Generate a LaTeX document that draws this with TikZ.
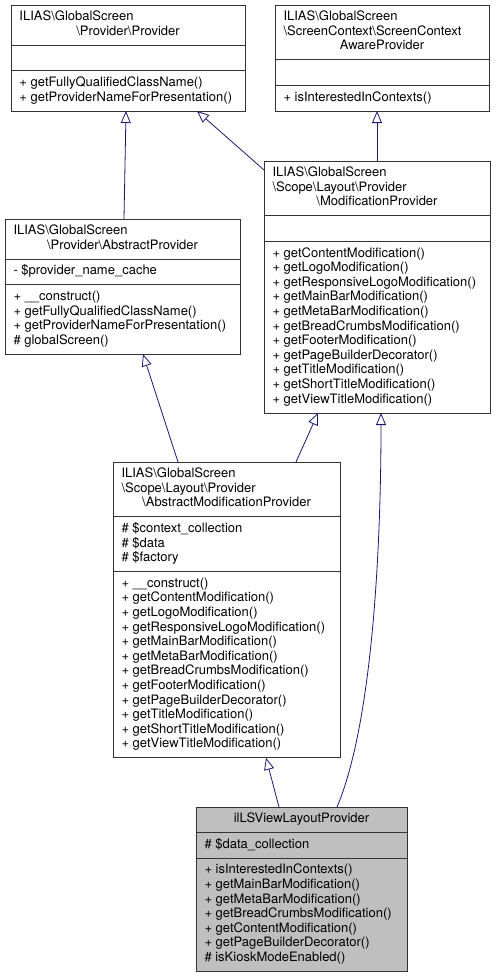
\documentclass[tikz,border=0pt]{standalone}
\usepackage{fontspec}
\setmainfont{TeX Gyre Heros}
\usetikzlibrary{positioning,arrows.meta}
\definecolor{edgeblue}{HTML}{191970}
\definecolor{boxgray}{HTML}{BFBFBF}
\newcommand{\bsl}{\textbackslash}

\begin{document}
\begin{tikzpicture}[x=1pt,y=-1pt,
  every node/.style={draw=black!80, line width=0.9pt, outer sep=0pt, inner xsep=8.5pt, inner ysep=5.5pt,
    font={\fontsize{13}{14.6}\selectfont\hyphenpenalty=10000\relax}, execute at begin node=\strut, execute at end node=\strut,
    align=flush left, fill=white},
  hd/.style={align=flush center},
  cur/.style={fill=boxgray},
  inh/.style={draw=edgeblue, line width=0.8pt, -{Triangle[open,length=12pt,width=10pt]}}]
\useasboundingbox (0,0) rectangle (496,977);

% Provider
\node[hd, text width=217pt, anchor=north west] (provT) at (11,5) {ILIAS\bsl GlobalScreen\hfill\null\\\bsl Provider\bsl Provider};
\node[text width=217pt, below=0pt of provT] (provA) {};
\node[text width=217pt, below=0pt of provA] (provM) {+ getFullyQualifiedClassName()\\+ getProviderNameForPresentation()};

% ScreenContextAwareProvider
\node[hd, text width=197pt, anchor=north west] (scapT) at (275,5) {ILIAS\bsl GlobalScreen\hfill\null\\\bsl ScreenContext\bsl ScreenContext\hfill\null\\AwareProvider};
\node[text width=197pt, below=0pt of scapT] (scapA) {};
\node[text width=197pt, below=0pt of scapA] (scapM) {+ isInterestedInContexts()};

% ModificationProvider
\node[hd, text width=209pt, anchor=north west] (modT) at (264,161) {ILIAS\bsl GlobalScreen\hfill\null\\\bsl Scope\bsl Layout\bsl Provider\hfill\null\\\bsl ModificationProvider};
\node[text width=209pt, below=0pt of modT] (modA) {};
\node[text width=209pt, below=0pt of modA] (modM) {+ getContentModification()\\+ getLogoModification()\\+ getResponsiveLogoModification()\\+ getMainBarModification()\\+ getMetaBarModification()\\+ getBreadCrumbsModification()\\+ getFooterModification()\\+ getPageBuilderDecorator()\\+ getTitleModification()\\+ getShortTitleModification()\\+ getViewTitleModification()};

% AbstractProvider
\node[hd, text width=218pt, anchor=north west] (absT) at (5,219) {ILIAS\bsl GlobalScreen\hfill\null\\\bsl Provider\bsl AbstractProvider};
\node[text width=218pt, below=0pt of absT] (absA) {- \$provider\_name\_cache};
\node[text width=218pt, below=0pt of absA] (absM) {+ \_\_construct()\\+ getFullyQualifiedClassName()\\+ getProviderNameForPresentation()\\\# globalScreen()};

% AbstractModificationProvider
\node[hd, text width=210pt, anchor=north west] (amodT) at (113,462) {ILIAS\bsl GlobalScreen\hfill\null\\\bsl Scope\bsl Layout\bsl Provider\hfill\null\\\bsl AbstractModificationProvider};
\node[text width=210pt, below=0pt of amodT] (amodA) {\# \$context\_collection\\\# \$data\\\# \$factory};
\node[text width=210pt, below=0pt of amodA] (amodM) {+ \_\_construct()\\+ getContentModification()\\+ getLogoModification()\\+ getResponsiveLogoModification()\\+ getMainBarModification()\\+ getMetaBarModification()\\+ getBreadCrumbsModification()\\+ getFooterModification()\\+ getPageBuilderDecorator()\\+ getTitleModification()\\+ getShortTitleModification()\\+ getViewTitleModification()};

% ilLSViewLayoutProvider
\node[hd, cur, text width=194pt, anchor=north west] (viewT) at (196,807) {ilLSViewLayoutProvider};
\node[cur, text width=194pt, below=0pt of viewT] (viewA) {\# \$data\_collection};
\node[cur, text width=194pt, below=0pt of viewA] (viewM) {+ isInterestedInContexts()\\+ getMainBarModification()\\+ getMetaBarModification()\\+ getBreadCrumbsModification()\\+ getContentModification()\\+ getPageBuilderDecorator()\\\# isKioskModeEnabled()};

% inheritance
\draw[inh] ([xshift=1.5pt]absT.north) -- ([xshift=-2pt]provM.south);
\draw[inh] ([yshift=-9pt]modT.north west) -- ([xshift=69pt]provM.south);
\draw[inh] (modT.north) -- ([xshift=-5pt]scapM.south);
\draw[inh] ([xshift=-48.5pt]amodT.north) -- ([xshift=20.5pt]absM.south);
\draw[inh] ([xshift=69.5pt]amodT.north) -- ([xshift=-59pt]modM.south);
\draw[inh] ([xshift=-22.5pt]viewT.north) -- ([xshift=39.5pt]amodM.south);
\draw[inh] ([xshift=35.5pt]viewT.north) .. controls (371,727) and (381,560) .. ([xshift=4pt]modM.south);
\end{tikzpicture}
\end{document}
